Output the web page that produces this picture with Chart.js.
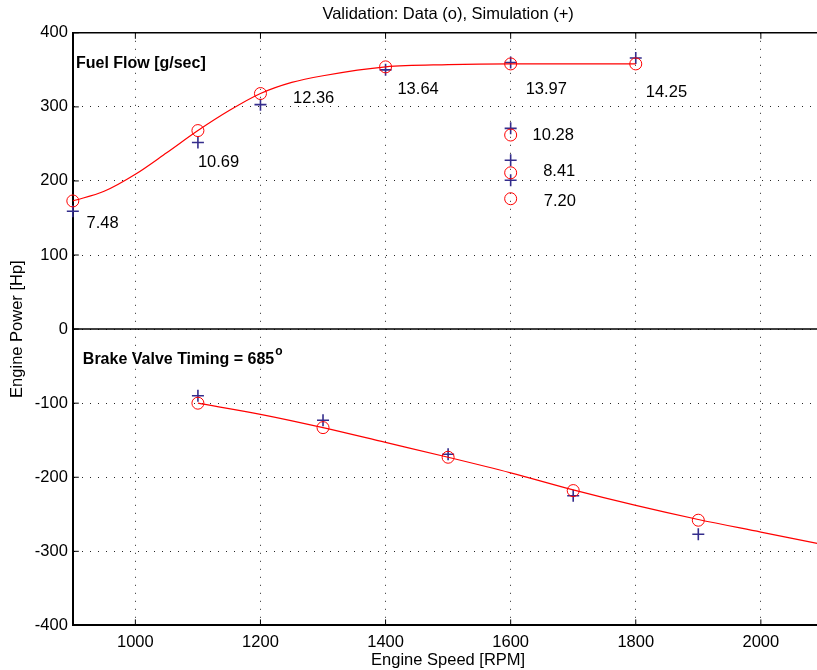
<!DOCTYPE html>
<html>
<head>
<meta charset="utf-8">
<script src="https://cdn.jsdelivr.net/npm/chart.js@4.4.1/dist/chart.umd.min.js"></script>
<style>
  html, body { margin: 0; padding: 0; background: #fff; overflow: hidden; }
  #wrap { width: 817px; height: 670px; overflow: hidden; }
</style>
</head>
<body>
<div id="wrap"><canvas id="chart" width="831" height="670"></canvas></div>
<script>
// axis ticks
const xTicks = [1000, 1200, 1400, 1600, 1800, 2000];
const yTicks = [-400, -300, -200, -100, 0, 100, 200, 300, 400];

// fuel flow: fitted curve, data (o), simulation (+)
const fuelFitRpm = [900, 950, 1000, 1050, 1100, 1150, 1200, 1250, 1300, 1400, 1500, 1600, 1700, 1800];
const fuelFitHp  = [173, 186, 209, 238, 268, 295, 318, 333, 342, 354, 357, 358, 358, 358];
const fuelDataRpm = [900, 1100, 1200, 1400, 1600, 1800, 1600, 1600, 1600];
const fuelDataHp  = [173, 268, 318, 354, 358, 358, 262, 211, 176];
const fuelSimRpm  = [900, 1100, 1200, 1400, 1600, 1800, 1600, 1600, 1600];
const fuelSimHp   = [159, 252, 303, 350, 360, 366, 271, 228, 201];

// brake: fitted curve, data (o), simulation (+)
const brakeFitRpm = [1100, 1200, 1300, 1400, 1500, 1600, 1700, 1800, 1900, 2000, 2100];
const brakeFitHp  = [-100, -115, -133, -153, -173, -194, -217, -238, -257, -274, -291];
const brakeDataRpm = [1100, 1300, 1500, 1700, 1900];
const brakeDataHp  = [-100, -133, -173, -218, -258];
const brakeSimRpm  = [1100, 1300, 1500, 1700, 1900];
const brakeSimHp   = [-90, -123, -169, -225, -277];

// fuel flow labels [g/sec] and where they sit (rpm, hp)
const flowLabels = ['7.48', '10.69', '12.36', '13.64', '13.97', '14.25', '10.28', '8.41', '7.20'];
const flowLabelRpm = [922, 1100, 1252, 1419, 1624, 1816, 1635, 1652, 1653];
const flowLabelHp  = [142, 225, 311, 324, 324, 320, 262, 213, 172];

const RED = '#ff0000';
const PLUS = '#342d8c';
const FONT = '"Liberation Sans", Arial, Helvetica, sans-serif';

Chart.defaults.font.family = FONT;
Chart.defaults.font.size = 16;
Chart.defaults.color = '#000';

const pts = (xs, ys) => xs.map((x, i) => ({ x: x, y: ys[i] }));

function fitSet(xs, ys) {
  return {
    data: pts(xs, ys), borderColor: RED, borderWidth: 1.2, pointRadius: 0,
    cubicInterpolationMode: 'monotone', showLine: true, fill: false, clip: false
  };
}
function circleSet(xs, ys) {
  return {
    data: pts(xs, ys), showLine: false, pointStyle: 'circle', pointRadius: 6,
    borderColor: RED, backgroundColor: 'rgba(0,0,0,0)', pointBorderWidth: 1, clip: false
  };
}
function plusSet(xs, ys) {
  return {
    data: pts(xs, ys), showLine: false, pointStyle: 'cross', pointRadius: 6,
    borderColor: PLUS, pointBorderWidth: 1.6, clip: false
  };
}

// solid frame lines, zero line and inward ticks
const framePlugin = {
  id: 'frame',
  beforeDatasetsDraw(chart) {
    const { ctx, chartArea: a, scales: { x, y } } = chart;
    ctx.save();
    ctx.strokeStyle = '#000';
    ctx.lineWidth = 1.5;
    ctx.beginPath();
    ctx.moveTo(a.left, a.top); ctx.lineTo(a.right, a.top);
    const y0 = y.getPixelForValue(0);
    ctx.moveTo(a.left, y0); ctx.lineTo(a.right, y0);
    ctx.stroke();
    ctx.lineWidth = 1;
    ctx.beginPath();
    xTicks.forEach(v => {
      const px = x.getPixelForValue(v);
      ctx.moveTo(px, a.bottom); ctx.lineTo(px, a.bottom - 6);
      ctx.moveTo(px, a.top); ctx.lineTo(px, a.top + 6);
    });
    yTicks.forEach(v => {
      const py = y.getPixelForValue(v);
      ctx.moveTo(a.left, py); ctx.lineTo(a.left + 6, py);
    });
    ctx.stroke();
    ctx.restore();
  },
  afterDatasetsDraw(chart) {
    const { ctx, scales: { x, y } } = chart;
    ctx.save();
    ctx.fillStyle = '#000';
    ctx.textBaseline = 'middle';
    ctx.textAlign = 'left';
    ctx.font = '16.5px ' + FONT;
    flowLabels.forEach((t, i) => {
      ctx.fillText(t, x.getPixelForValue(flowLabelRpm[i]), y.getPixelForValue(flowLabelHp[i]));
    });
    ctx.font = 'bold 16px ' + FONT;
    ctx.fillText('Fuel Flow [g/sec]', x.getPixelForValue(905), y.getPixelForValue(358));
    const bx = x.getPixelForValue(916), by = y.getPixelForValue(-41);
    const main = 'Brake Valve Timing = 685';
    ctx.fillText(main, bx, by);
    const w = ctx.measureText(main).width;
    ctx.font = 'bold 12px ' + FONT;
    ctx.fillText('o', bx + w + 1, by - 8);
    ctx.restore();
  }
};

new Chart(document.getElementById('chart'), {
  type: 'scatter',
  data: {
    datasets: [
      fitSet(fuelFitRpm, fuelFitHp),
      circleSet(fuelDataRpm, fuelDataHp),
      plusSet(fuelSimRpm, fuelSimHp),
      fitSet(brakeFitRpm, brakeFitHp),
      circleSet(brakeDataRpm, brakeDataHp),
      plusSet(brakeSimRpm, brakeSimHp)
    ]
  },
  options: {
    responsive: false,
    animation: false,
    devicePixelRatio: 1,
    layout: { padding: 0 },
    plugins: {
      legend: { display: false },
      tooltip: { enabled: false },
      title: {
        display: true,
        fullSize: false,
        text: 'Validation: Data (o), Simulation (+)',
        color: '#000',
        font: { size: 16.5, weight: 'normal' },
        padding: { top: 5, bottom: 8 }
      }
    },
    scales: {
      x: {
        type: 'linear',
        min: 900,
        max: 2100,
        afterBuildTicks: s => { s.ticks = xTicks.map(v => ({ value: v })); },
        afterFit: s => { s.paddingRight = 0; },
        ticks: { padding: 7, color: '#000', font: { size: 16.5 }, callback: v => String(v) },
        grid: { color: 'rgba(0,0,0,0.85)', lineWidth: 1, drawTicks: false },
        border: { display: true, color: '#000', width: 2, dash: [1, 7] },
        title: { display: true, text: 'Engine Speed [RPM]', color: '#000', font: { size: 16.5 }, padding: { top: -9, bottom: 0 } }
      },
      y: {
        type: 'linear',
        min: -400,
        max: 400,
        afterBuildTicks: s => { s.ticks = yTicks.map(v => ({ value: v })); },
        ticks: { padding: 5, color: '#000', font: { size: 16.5 }, callback: v => String(v) },
        grid: { color: 'rgba(0,0,0,0.85)', lineWidth: 1, drawTicks: false },
        border: { display: true, color: '#000', width: 2, dash: [1, 7] },
        title: { display: true, text: 'Engine Power [Hp]', color: '#000', font: { size: 16.5 }, padding: { top: 8, bottom: 2 } }
      }
    }
  },
  plugins: [framePlugin]
});
</script>
</body>
</html>
